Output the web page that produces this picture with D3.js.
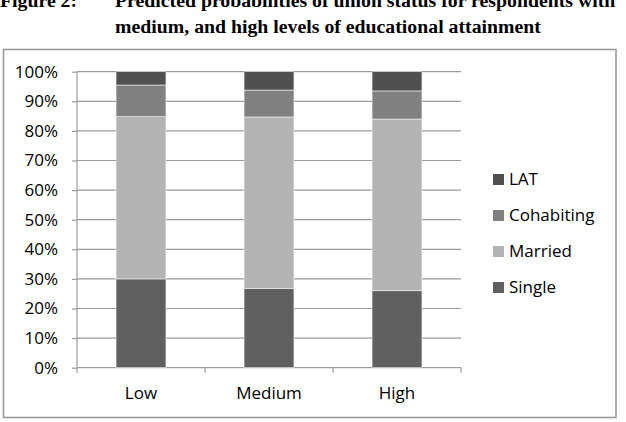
<!DOCTYPE html>
<html>
<head>
<meta charset="utf-8">
<script src="https://cdn.jsdelivr.net/npm/d3@7"></script>
<style>
  body { margin: 0; background: #fff; }
  svg { display: block; }
</style>
</head>
<body>
<svg id="chart" width="626" height="422"></svg>
<script>
// datos
const categorias = ["Low", "Medium", "High"];
const series = ["Single", "Married", "Cohabiting", "LAT"];
const single = [30.0, 26.7, 26.0];
const married = [54.8, 58.0, 58.0];
const cohabiting = [10.7, 9.1, 9.5];
const lat = [4.5, 6.2, 6.5];
const yTicks = [0, 0.1, 0.2, 0.3, 0.4, 0.5, 0.6, 0.7, 0.8, 0.9, 1];
const titulo1 = "Predicted probabilities of union status for respondents with";
const titulo2 = "medium, and high levels of educational attainment";

const colores = { Single: "#606060", Married: "#b3b3b3", Cohabiting: "#808080", LAT: "#505050" };

const datos = categorias.map((c, i) => {
    const total = single[i] + married[i] + cohabiting[i] + lat[i];
    return {
        label: c,
        Single: single[i] / total,
        Married: married[i] / total,
        Cohabiting: cohabiting[i] / total,
        LAT: lat[i] / total
    };
});

const svg = d3.select("#chart");
const fuente = "'Open Sans', sans-serif";

// titulo (cortado arriba como en la figura)
const tit = svg.append("g")
    .style("font-family", "'Liberation Serif', 'Times New Roman', serif")
    .style("font-weight", "bold")
    .style("font-size", "19.8px")
    .attr("fill", "#000");
tit.append("text").attr("x", 0).attr("y", 6.5).text("Figure 2:");
tit.append("text").attr("x", 115).attr("y", 6.5).text(titulo1);
tit.append("text").attr("x", 115).attr("y", 32.5).text(titulo2);

// marco del grafico
svg.append("rect")
    .attr("x", 3.5).attr("y", 49.5)
    .attr("width", 612.5).attr("height", 368)
    .attr("fill", "#fff")
    .attr("stroke", "#9a9a9a")
    .attr("stroke-width", 1.6);

const margenIzq = 77, margenDer = 461, margenSup = 71.7, margenInf = 367.7;

const x = d3.scaleBand()
    .domain(categorias)
    .range([margenIzq, margenDer])
    .paddingInner(0.61)
    .paddingOuter(0.305);

const y = d3.scaleLinear()
    .domain([0, 1])
    .range([margenInf, margenSup]);

// lineas de cuadricula
svg.append("g")
    .selectAll("line")
    .data(yTicks.slice(1))
    .join("line")
    .attr("x1", margenIzq).attr("x2", margenDer)
    .attr("y1", d => y(d)).attr("y2", d => y(d))
    .attr("stroke", "#9a9a9a")
    .attr("stroke-width", 1.2);

// Eje Y
const ejeY = svg.append("g")
    .attr("transform", `translate(${margenIzq},0)`)
    .call(d3.axisLeft(y).tickValues(yTicks).tickFormat(d3.format(".0%")).tickSize(5).tickPadding(14))
    .style("font-family", fuente)
    .style("font-size", "17px");
ejeY.selectAll("line, path").attr("stroke", "#9a9a9a").attr("stroke-width", 1.2);
ejeY.select("path").attr("d", `M0,${margenInf}V${margenSup}`);
ejeY.selectAll("text").attr("fill", "#000");

// Eje X
const ejeX = svg.append("g")
    .attr("transform", `translate(0,${margenInf})`)
    .call(d3.axisBottom(x).tickSize(0).tickPadding(19))
    .style("font-family", fuente)
    .style("font-size", "17px");
ejeX.select("path").attr("d", `M${margenIzq},0H${margenDer}`).attr("stroke", "#9a9a9a").attr("stroke-width", 1.2);
ejeX.selectAll("text").attr("fill", "#000");

// marcas en los limites de categoria
ejeX.selectAll("line.limite")
    .data(d3.range(categorias.length + 1))
    .join("line")
    .attr("class", "limite")
    .attr("x1", i => margenIzq + i * x.step()).attr("x2", i => margenIzq + i * x.step())
    .attr("y1", 0).attr("y2", 5)
    .attr("stroke", "#9a9a9a")
    .attr("stroke-width", 1.2);

// barras apiladas
const stack = d3.stack().keys(series);
const capas = stack(datos);

svg.append("g")
    .selectAll("g.serie")
    .data(capas)
    .join("g")
    .attr("class", "serie")
    .attr("fill", d => colores[d.key])
    .selectAll("rect")
    .data(d => d)
    .join("rect")
    .attr("x", d => x(d.data.label))
    .attr("y", d => y(d[1]))
    .attr("height", d => y(d[0]) - y(d[1]))
    .attr("width", x.bandwidth())
    .attr("stroke", "#f4f4f4")
    .attr("stroke-width", 0.6);

// Leyenda
const leyenda = svg.append("g")
    .attr("transform", "translate(493, 179.5)");

series.slice().reverse().forEach((s, i) => {
    const fila = leyenda.append("g")
        .attr("transform", `translate(0, ${i * 36})`);
    fila.append("rect")
        .attr("x", 0).attr("y", -5.5)
        .attr("width", 11).attr("height", 11)
        .attr("fill", colores[s]);
    fila.append("text")
        .attr("x", 16)
        .attr("y", 0)
        .attr("dy", "0.35em")
        .text(s)
        .style("font-family", fuente)
        .style("font-size", "17px")
        .attr("fill", "#000");
});
</script>
</body>
</html>
